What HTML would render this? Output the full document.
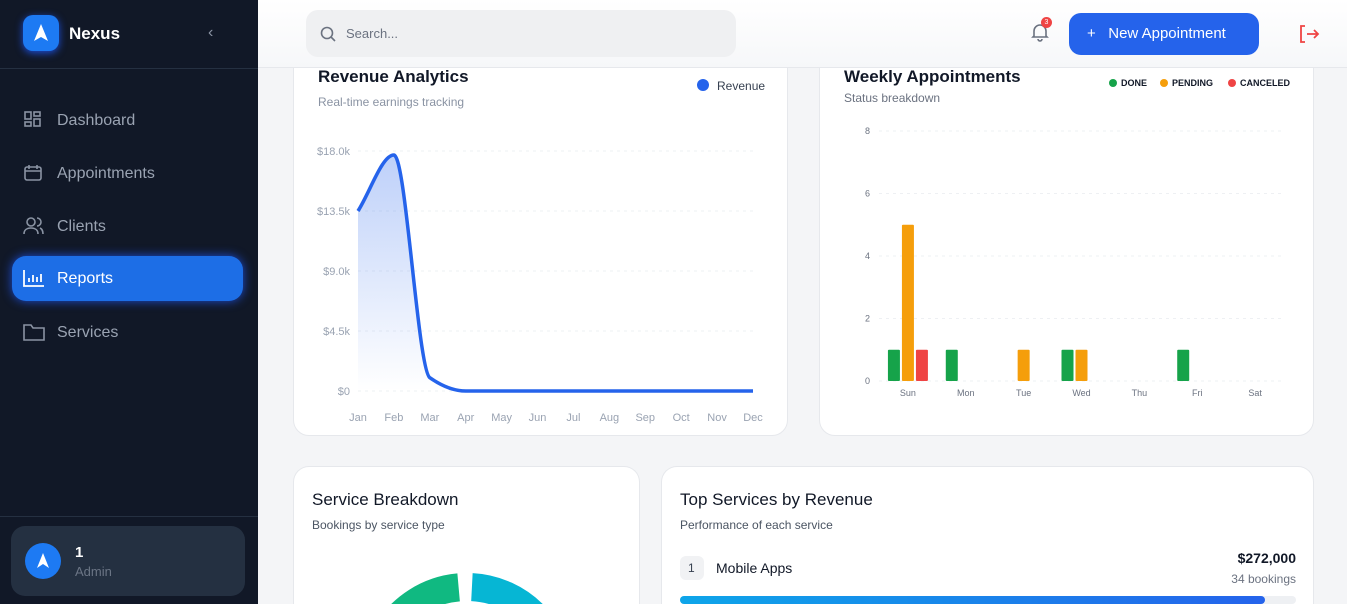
<!DOCTYPE html>
<html style="overflow:hidden"><head><meta charset="utf-8"><style>
*{box-sizing:border-box;margin:0;padding:0}
html,body{width:1347px;height:604px;overflow:hidden}
body{background:#f4f5f7;font-family:"Liberation Sans",sans-serif;position:relative}
.abs{position:absolute}
#sb{left:0;top:0;width:258px;height:604px;background:#111827}
.nav{position:absolute;left:12px;width:231px;height:45px;border-radius:14px;color:#9aa3b2;font-size:16px;display:flex;align-items:center;padding-left:45px}
.nav svg{position:absolute;left:11px;top:12px}
.card{position:absolute;background:#fff;border:1px solid #e6e8ec;border-radius:16px}
.cut{border-bottom:none;border-bottom-left-radius:0;border-bottom-right-radius:0}
</style></head><body>
<div id="sb" class="abs">
  <div class="abs" style="left:23px;top:15px;width:36px;height:36px;border-radius:10px;background:#1d7af3;box-shadow:0 2px 8px #1d4ed8"><svg width="36" height="36"><path d="M18 9 L25 26 L18 22 L11 26Z" fill="#fff"/></svg></div>
  <div class="abs" style="left:69px;top:24px;color:#fff;font-weight:bold;font-size:17px">Nexus</div>
  <div class="abs" style="left:208px;top:24px;color:#8a93a3;font-size:16px">&#8249;</div>
  <div class="abs" style="left:0;top:68px;width:258px;height:1px;background:#253041"></div>
  <div class="nav" style="top:98px"><svg width="20" height="20" fill="none" stroke="#8a93a3" stroke-width="1.6"><rect x="2" y="2" width="6" height="7"/><rect x="11" y="2" width="6" height="4"/><rect x="2" y="12" width="6" height="4"/><rect x="11" y="9" width="6" height="7"/></svg>Dashboard</div>
  <div class="nav" style="top:151px"><svg width="20" height="20" fill="none" stroke="#8a93a3" stroke-width="1.6"><rect x="2" y="4" width="16" height="13" rx="2"/><path d="M2 8h16M6 2v4M14 2v4"/></svg>Appointments</div>
  <div class="nav" style="top:204px"><svg width="22" height="20" fill="none" stroke="#8a93a3" stroke-width="1.6"><circle cx="8" cy="6" r="4"/><path d="M1 18c0-4 3-6 7-6s7 2 7 6M14 2a4 4 0 010 8M17 12c2 1 3 3 3 6"/></svg>Clients</div>
  <div class="nav" style="top:256px;background:#1d6ee6;color:#fff;box-shadow:0 0 10px #1d4ed8"><svg width="22" height="20" fill="none" stroke="#fff" stroke-width="1.8"><path d="M1 2v16h20M6 14v-4M10 14v-7M14 14v-5M18 14v-8"/></svg>Reports</div>
  <div class="nav" style="top:310px"><svg width="22" height="20" fill="none" stroke="#8a93a3" stroke-width="1.6"><path d="M1 3h7l2 3h11v12H1z"/></svg>Services</div>
  <div class="abs" style="left:0;top:516px;width:258px;height:1px;background:#253041"></div>
  <div class="abs" style="left:11px;top:526px;width:234px;height:70px;border-radius:14px;background:#243041">
    <div class="abs" style="left:14px;top:17px;width:36px;height:36px;border-radius:50%;background:#1d7af3"><svg width="36" height="36"><path d="M18 10 L24 25 L18 21 L12 25Z" fill="#fff"/></svg></div>
    <div class="abs" style="left:64px;top:18px;color:#fff;font-weight:bold;font-size:15px">1</div>
    <div class="abs" style="left:64px;top:38px;color:#6b7585;font-size:13px">Admin</div>
  </div>
</div>
<div class="abs" style="left:258px;top:0;width:1089px;height:68px;background:linear-gradient(#fff,#f6f7f9);border-bottom:1px solid #e6e8ec;z-index:2">
  <div class="abs" style="left:48px;top:10px;width:430px;height:47px;border-radius:12px;background:#eff0f2">
    <svg class="abs" style="left:14px;top:16px" width="16" height="16" fill="none" stroke="#6b7280" stroke-width="1.6"><circle cx="7" cy="7" r="5.5"/><path d="M11 11l4 4"/></svg>
    <span class="abs" style="left:40px;top:16px;color:#6b7280;font-size:13px">Search...</span>
  </div>
  <div class="abs" style="left:772px;top:22px"><svg width="20" height="20" fill="none" stroke="#6b7280" stroke-width="1.6"><path d="M4 14V9a6 6 0 0112 0v5l1 1H3zM8 17a2 2 0 004 0"/></svg><div class="abs" style="left:11px;top:-5px;width:11px;height:11px;border-radius:50%;background:#ef4444;color:#fff;font-size:7px;text-align:center;line-height:11px">3</div></div>
  <div class="abs" style="left:811px;top:13px;width:190px;height:42px;border-radius:12px;background:#2563eb;color:#fff;font-size:15px;line-height:42px;padding-left:18px">+&nbsp;&nbsp; New Appointment</div>
  <div class="abs" style="left:1040px;top:24px"><svg width="22" height="20" fill="none" stroke="#ef4444" stroke-width="1.8"><path d="M7 2H3v16h4M9 10h11M16 6l4 4-4 4"/></svg></div>
</div>
<div class="card" style="left:293px;top:40px;width:495px;height:396px"></div>
<div class="card" style="left:819px;top:40px;width:495px;height:396px"></div>
<svg class="abs" style="left:0;top:0" width="1347" height="604" id="charts">
  <defs><linearGradient id="ag" x1="0" y1="0" x2="0" y2="1"><stop offset="0" stop-color="#2563eb" stop-opacity="0.3"/><stop offset="1" stop-color="#2563eb" stop-opacity="0"/></linearGradient></defs>
  <text x="318" y="82" font-size="17" font-weight="bold" fill="#111827">Revenue Analytics</text>
  <text x="318" y="106" font-size="12" fill="#8a93a3">Real-time earnings tracking</text>
  <circle cx="703" cy="85" r="6" fill="#2563eb"/><text x="717" y="90" font-size="12" fill="#374151">Revenue</text>
  <text x="844" y="82" font-size="17" font-weight="bold" fill="#111827">Weekly Appointments</text>
  <text x="844" y="102" font-size="12" fill="#6b7280">Status breakdown</text>
  <g font-size="9" font-weight="bold" fill="#111827">
   <circle cx="1113" cy="83" r="4" fill="#16a34a"/><text x="1121" y="86">DONE</text>
   <circle cx="1164" cy="83" r="4" fill="#f59e0b"/><text x="1172" y="86">PENDING</text>
   <circle cx="1232" cy="83" r="4" fill="#ef4444"/><text x="1240" y="86">CANCELED</text>
  </g>
  <g id="line"></g><g id="bars"></g>
</svg>
<div class="card cut" style="left:293px;top:466px;width:347px;height:138px;overflow:hidden">
  <div class="abs" style="left:18px;top:23px;font-size:17px;color:#111827">Service Breakdown</div>
  <div class="abs" style="left:18px;top:51px;font-size:12px;color:#4b5563">Bookings by service type</div>
  <svg class="abs" style="left:0;top:0" width="347" height="138">
    <circle cx="173" cy="214" r="94" fill="none" stroke="#06b6d4" stroke-width="28" stroke-dasharray="500 1000" transform="rotate(-87 173 214)"/>
    <circle cx="173" cy="214" r="94" fill="none" stroke="#10b981" stroke-width="28" stroke-dasharray="90 1000" transform="rotate(-150 173 214)"/>
  </svg>
</div>
<div class="card cut" style="left:661px;top:466px;width:653px;height:138px;overflow:hidden">
  <div class="abs" style="left:18px;top:23px;font-size:17px;color:#111827">Top Services by Revenue</div>
  <div class="abs" style="left:18px;top:51px;font-size:12px;color:#4b5563">Performance of each service</div>
  <div class="abs" style="left:18px;top:89px;width:24px;height:24px;border-radius:6px;background:#f1f2f4;font-size:12px;color:#374151;line-height:24px;padding-left:8px">1</div>
  <div class="abs" style="left:54px;top:93px;font-size:14px;color:#111827">Mobile Apps</div>
  <div class="abs" style="right:17px;top:83px;font-size:14px;font-weight:bold;color:#111827">$272,000</div>
  <div class="abs" style="right:17px;top:105px;font-size:12px;color:#6b7280">34 bookings</div>
  <div class="abs" style="left:18px;top:129px;width:616px;height:8px;border-radius:4px;background:#eef0f3"><div style="width:585px;height:8px;border-radius:4px;background:linear-gradient(90deg,#0ea5e9,#2563eb)"></div></div>
</div>
<script>
const months=["Jan","Feb","Mar","Apr","May","Jun","Jul","Aug","Sep","Oct","Nov","Dec"];
const revenue=[13500,17700,1000,0,0,0,0,0,0,0,0,0];
const revTicks=[0,4500,9000,13500,18000];
const revTickLabels=["$0","$4.5k","$9.0k","$13.5k","$18.0k"];
const days=["Sun","Mon","Tue","Wed","Thu","Fri","Sat"];
const done=[1,1,0,1,0,1,0];
const pending=[5,0,1,1,0,0,0];
const canceled=[1,0,0,0,0,0,0];
const barTicks=[0,2,4,6,8];
const NS="http://www.w3.org/2000/svg";
function mk(t,a,p){const e=document.createElementNS(NS,t);for(const k in a)e.setAttribute(k,a[k]);p.appendChild(e);return e;}
const lx=i=>358+i*(753-358)/(months.length-1);
const ly=v=>391-v/18000*240;
const lg=document.getElementById('line');
revTicks.forEach((t,i)=>{mk('line',{x1:358,x2:753,y1:ly(t),y2:ly(t),stroke:'#eef0f3','stroke-dasharray':'3 4'},lg);
 const tx=mk('text',{x:350,y:ly(t)+4,'text-anchor':'end','font-size':11,fill:'#9aa3b2'},lg);tx.textContent=revTickLabels[i];
 
 });
months.forEach((m,i)=>{const tx=mk('text',{x:lx(i),y:421,'text-anchor':'middle','font-size':11,fill:'#9aa3b2'},lg);tx.textContent=m;
 
 });
const pts=revenue.map((v,i)=>[lx(i),ly(v)]);
const n=pts.length,h=pts[1][0]-pts[0][0];
const dl=[];for(let i=0;i<n-1;i++)dl.push((pts[i+1][1]-pts[i][1])/h);
const m=new Array(n);m[0]=dl[0];m[n-1]=dl[n-2];
for(let i=1;i<n-1;i++){m[i]=(dl[i-1]*dl[i]<=0)?0:2/(1/dl[i-1]+1/dl[i]);}
let d='M'+pts[0][0]+','+pts[0][1];
for(let i=0;i<n-1;i++){d+=` C${pts[i][0]+h/3},${pts[i][1]+m[i]*h/3} ${pts[i+1][0]-h/3},${pts[i+1][1]-m[i+1]*h/3} ${pts[i+1][0]},${pts[i+1][1]}`;}
const area=mk('path',{d:d+` L${pts[n-1][0]},${ly(0)} L${pts[0][0]},${ly(0)}Z`,fill:'url(#ag)'},lg);


const ln=mk('path',{d:d,fill:'none',stroke:'#2563eb','stroke-width':3.5},lg);


const bx=i=>879+(i+0.5)*(1284-879)/days.length;
const by=v=>381-v/8*250;
const bg=document.getElementById('bars');
barTicks.forEach(t=>{mk('line',{x1:879,x2:1284,y1:by(t),y2:by(t),stroke:'#eef0f3','stroke-dasharray':'3 4'},bg);
 const tx=mk('text',{x:870,y:by(t)+3,'text-anchor':'end','font-size':9,fill:'#6b7280'},bg);tx.textContent=t;
 
 });
days.forEach((dd,i)=>{const tx=mk('text',{x:bx(i),y:396,'text-anchor':'middle','font-size':9,fill:'#6b7280'},bg);tx.textContent=dd;
 
 });
[[done,'#16a34a',-14,'bar-done'],[pending,'#f59e0b',0,'bar-pending'],[canceled,'#ef4444',14,'bar-canceled']].forEach(([arr,c,off,nm])=>{
 arr.forEach((v,i)=>{if(v<=0)return;const r=mk('rect',{x:bx(i)+off-6,y:by(v),width:12,height:by(0)-by(v),fill:c,rx:1},bg);
  
  });});
</script>
</body></html>
